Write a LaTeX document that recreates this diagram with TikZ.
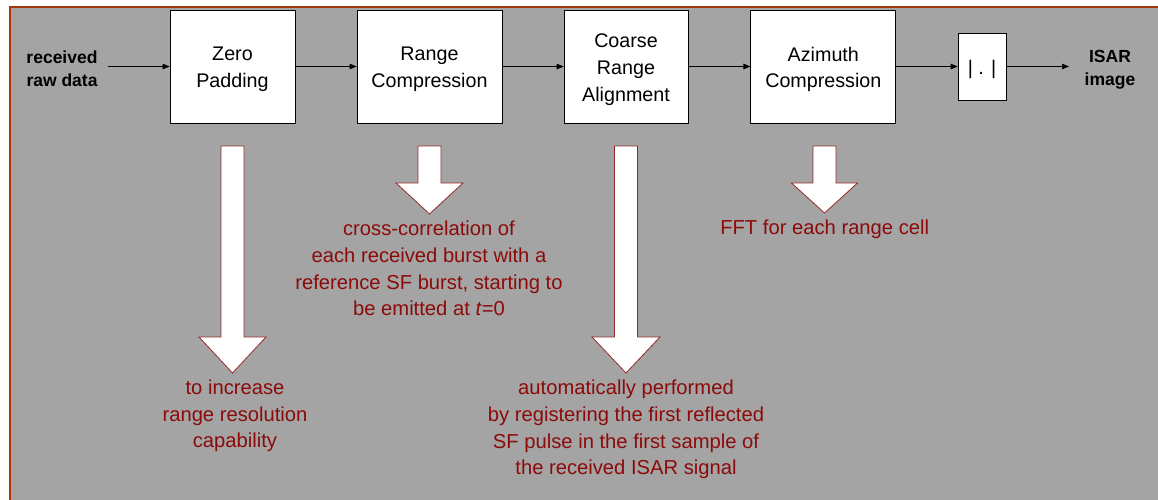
\documentclass[tikz,border=0pt]{standalone}
\usepackage{fontspec}
\setmainfont{Liberation Sans}
\usetikzlibrary{arrows.meta}
\definecolor{bggray}{RGB}{164,164,164}
\definecolor{frame}{RGB}{160,56,10}
\definecolor{txtred}{RGB}{140,10,10}
\definecolor{arrowedge}{RGB}{150,40,40}
\tikzset{
  procbox/.style={draw=black, fill=white, line width=0.7pt, inner sep=0pt, minimum height=113pt},
  boxtext/.style={align=center, font=\fontsize{19.7}{26.7}\selectfont, inner sep=0pt, yshift=-3pt},
  iolabel/.style={align=center, font=\fontsize{17.5}{23.3}\selectfont\bfseries, inner sep=0pt},
  note/.style={align=center, text=txtred, font=\fontsize{20.2}{26.7}\selectfont, inner sep=0pt},
  flow/.style={line width=0.7pt, -{Triangle[length=7pt,width=5.5pt]}},
  bigarrow/.style={draw=arrowedge, fill=white, line width=0.8pt, line join=miter}
}
\begin{document}
\begin{tikzpicture}[x=1pt,y=-1pt]
\useasboundingbox (0,0) rectangle (1158,499);
% background panel
\fill[bggray] (9,6) rectangle (1160,501);
\draw[frame, line width=2pt] (10,501) -- (10,7) -- (1160,7);

% processing chain
\node[iolabel] (in) at (62,69) {received\\raw data};
\node[procbox, minimum width=125pt, label={[boxtext]center:Zero\\Padding}] (zp) at (232.5,66.5) {};
\node[procbox, minimum width=145pt, label={[boxtext]center:Range\\Compression}] (rc) at (429.5,66.5) {};
\node[procbox, minimum width=124pt, label={[boxtext]center:Coarse\\Range\\Alignment}] (cra) at (626,66.5) {};
\node[procbox, minimum width=145pt, label={[boxtext]center:Azimuth\\Compression}] (ac) at (823.3,66.5) {};
\node[procbox, minimum width=48pt, minimum height=67pt, label={[boxtext]center:| . |}] (abs) at (982,66.5) {};
\node[iolabel] (out) at (1110,69.5) {ISAR\\image};
\coordinate (inS) at (108,66.5);
\coordinate (outE) at (1069,66.5);

\draw[flow] (inS) -- (zp.west);
\draw[flow] (zp.east) -- (rc.west);
\draw[flow] (rc.east) -- (cra.west);
\draw[flow] (cra.east) -- (ac.west);
\draw[flow] (ac.east) -- (abs.west);
\draw[flow] (abs.east) -- (outE);

% block arrows
\draw[bigarrow] (221,146) -- (244,146) -- (244,337) -- (266,337) -- (232.5,373) -- (199,337) -- (221,337) -- cycle;
\draw[bigarrow] (418,146) -- (441,146) -- (441,183) -- (463,183) -- (429.5,214) -- (396,183) -- (418,183) -- cycle;
\draw[bigarrow] (614.5,146) -- (637.5,146) -- (637.5,337) -- (660,337) -- (626,373) -- (592,337) -- (614.5,337) -- cycle;
\draw[bigarrow] (813,146) -- (836,146) -- (836,183) -- (857.5,183) -- (824.5,213) -- (791.5,183) -- (813,183) -- cycle;

% notes
\node[note] (n1) at (235,416) {to increase\\range resolution\\capability};
\node[note] (n2) at (429,268.5) {cross-correlation of\\each received burst with a\\reference SF burst, starting to\\be emitted at \textit{t}=0};
\node[note] (n3) at (626,429.5) {automatically performed\\by registering the first reflected\\SF pulse in the first sample of\\the received ISAR signal};
\node[note] (n4) at (824.7,229) {FFT for each range cell};
\end{tikzpicture}
\end{document}
